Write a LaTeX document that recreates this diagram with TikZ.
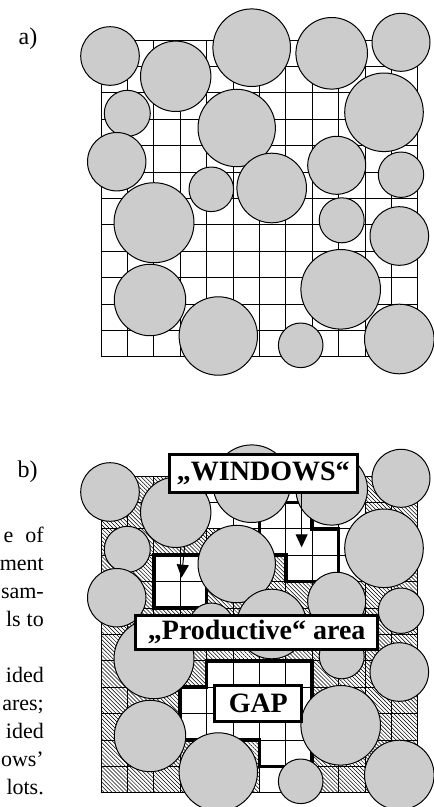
\documentclass[tikz,border=0pt]{standalone}
\usepackage{fontspec}
\setmainfont{Liberation Serif}
\usepackage{tikz}
\usetikzlibrary{arrows.meta, patterns.meta, calc}
\definecolor{graingray}{gray}{0.8}

\pgfdeclarelayer{front}
\pgfsetlayers{main,front}

\tikzset{
  gridline/.style={line width=0.9pt},
  grain/.style={draw, line width=1pt, fill=graingray},
  hatch/.style={pattern={Lines[angle=-45,distance=2.8pt,line width=0.5pt]}},
  outline/.style={line width=3.6pt},
  labelbox/.style={draw, line width=3pt, fill=white, inner sep=0pt,
    font=\fontsize{28}{30}\selectfont\bfseries},
  pointer/.style={-{Triangle[length=13pt,width=12pt]}, line width=1pt},
  sidetxt/.style={anchor=base east, inner sep=0pt, font=\fontsize{22}{26}\selectfont},
  panel/.style={font=\fontsize{24}{28}\selectfont}
}

% grains: x / y / radius (same in both panels)
\newcommand{\grainlist}{110/56/29.3, 175.7/76.3/35.2, 251.7/47.7/38.8,
  331.7/53.3/35.8, 401/42.3/29, 127.3/113.3/23, 236.7/128/38.7,
  384/112.3/39.3, 116.7/161.7/29.2, 211.3/189.3/22.3, 271.7/188/34.8,
  336.7/165.3/29, 401/174.7/22.7, 154/222.7/40, 341.7/220.3/22.5,
  399.3/236/29.3, 150/300/35.7, 340.7/289.3/39.8, 218.3/336/39.2,
  300.7/345.3/22.3, 399.3/339/34.8}

\begin{document}
\begin{tikzpicture}[x=1pt, y=-1pt]
\useasboundingbox (0,0) rectangle (434,807);

% --- a) plain sampling grid ---
\node[panel] (labA) at (28,39) {a)};
\begin{scope}[shift={(101,40)}, x=26.4pt, y=-26.4pt]
  \foreach \i in {0,...,12} {
    \draw[gridline] (\i,0) -- (\i,12);
    \draw[gridline] (0,\i) -- (12,\i);
  }
\end{scope}
\foreach \cx/\cy/\r in \grainlist
  \draw[grain] (\cx,\cy) circle (\r pt);

% --- b) windows, productive area, gap ---
\node[panel] (labB) at (27.5,471.5) {b)};
\foreach \txt/\yy [count=\k] in {e\hspace{12pt}of/542, ment/570, sam-/598,
    ls\hspace{6pt}to/626, ided/682, {ares;}/710, ided/738, ows’/766, lots./794}
  \node[sidetxt] (side\k) at (44,\yy) {\txt};

\begin{scope}[shift={(101,476)}, x=26.4pt, y=-26.4pt]
  \fill[hatch] (0,0) rectangle (12,12);
  % productive cells
  \foreach \c/\r in {4/0, 5/0, 6/0, 7/0, 8/0, 9/0,
      4/1, 5/1, 6/1, 7/1, 8/1, 9/1,
      5/2, 6/2, 7/2, 8/2, 9/2,
      2/3, 3/3, 7/3, 8/3, 9/3,
      2/4, 3/4,
      4/7, 5/7, 6/7, 7/7,
      3/8, 4/8, 5/8, 6/8, 7/8,
      3/9, 4/9, 5/9, 6/9, 7/9,
      6/10, 7/10, 6/11, 7/11}
    \fill[white] (\c,\r) rectangle ++(1,1);
  \foreach \i in {0,...,12} {
    \draw[gridline] (\i,0) -- (\i,12);
    \draw[gridline] (0,\i) -- (12,\i);
  }
  % windows and gap
  \draw[outline] (2,3) -- (4,3) -- (4,5) -- (2,5) -- cycle;
  \draw[outline] (6,1) -- (8,1) -- (8,2) -- (9,2) -- (9,4) -- (7,4)
    -- (7,3) -- (6,3) -- cycle;
  \draw[outline] (4,7) -- (8,7) -- (8,11) -- (6,11) -- (6,10) -- (3,10)
    -- (3,8) -- (4,8) -- cycle;
  \coordinate (winL) at (3.05,3.85);
  \coordinate (winR) at (7.6,2.7);
\end{scope}

\begin{pgfonlayer}{front}
  \node[labelbox, minimum width=188pt, minimum height=37.5pt]
    (windows) at (263.3,473.7) {„WINDOWS“};
  \node[labelbox, minimum width=241.5pt, minimum height=34pt]
    (prod) at (256.7,632) {„Productive“ area};
  \node[labelbox, minimum width=87pt, minimum height=36pt]
    (gap) at (258.3,703.7) {GAP};
  \draw[pointer] (windows.south -| winR) -- (winR);
\end{pgfonlayer}
\draw[pointer] ([xshift=22pt]windows.south west) -- (winL);

\begin{scope}[shift={(0,436)}]
  \foreach \cx/\cy/\r in \grainlist
    \draw[grain] (\cx,\cy) circle (\r pt);
\end{scope}
\end{tikzpicture}
\end{document}
